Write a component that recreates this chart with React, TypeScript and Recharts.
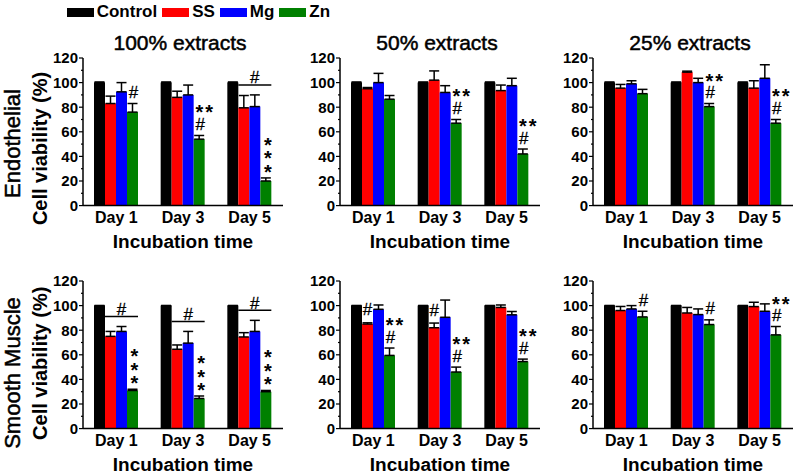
import React from 'react';
import { BarChart, Bar, XAxis, YAxis, ErrorBar } from 'recharts';

// categories and series
const days = ['Day 1', 'Day 3', 'Day 5'];
const seriesNames = ['Control', 'SS', 'Mg', 'Zn'];
const seriesColors = ['#000000', '#ff0000', '#0000ff', '#008000'];
const yTicks = [0, 10, 20, 30, 40, 50, 60, 70, 80, 90, 100, 110, 120];
const panelTitles = ['100% extracts', '50% extracts', '25% extracts'];
const rowLabels = ['Endothelial', 'Smooth Muscle'];

// rows = days, columns = Control, SS, Mg, Zn
const endo100Mean = [[100, 83, 92.5, 76], [100, 88, 90, 54], [100, 79.5, 80.5, 20]];
const endo100Err = [[0.5, 6, 7.5, 7], [0.5, 5, 8, 3], [0.5, 10, 9.5, 2.5]];
const endo100Marks = [{ zn: ['#'] }, { zn: ['**', '#'] }, { bar: '#', zn: ['*', '*', '*'] }];

const endo50Mean = [[100, 95, 100, 86.5], [100, 102, 92, 67], [100, 93.5, 97.5, 42]];
const endo50Err = [[0.5, 1, 7.5, 3], [0.5, 7.5, 5.5, 3], [0.5, 4.5, 6, 4]];
const endo50Marks = [{}, { zn: ['**', '#'] }, { zn: ['**', '#'] }];

const endo25Mean = [[100, 95.5, 99, 91], [100, 108.5, 100, 80.5], [100, 95.5, 103.5, 67]];
const endo25Err = [[0.5, 3, 2.5, 3.5], [0.5, 0.8, 3.5, 2.5], [0.5, 6, 11, 3]];
const endo25Marks = [{}, { zn: ['**', '#'] }, { zn: ['**', '#'] }];

const smooth100Mean = [[100, 75, 79, 31], [100, 64.5, 69.5, 24.5], [100, 74.5, 79, 30]];
const smooth100Err = [[0, 4, 4, 1], [0, 3.5, 9.5, 2], [0, 3.5, 9, 1]];
const smooth100Marks = [
  { bar: '#', zn: ['*', '*', '*'] },
  { bar: '#', zn: ['*', '*', '*'] },
  { bar: '#', zn: ['*', '*', '*'] },
];

const smooth50Mean = [[100, 85, 97, 59.5], [100, 82, 90.5, 46], [100, 98.5, 92.5, 54.5]];
const smooth50Err = [[0, 1, 3.5, 6], [0, 3.8, 14, 4], [0, 2, 2.7, 2]];
const smooth50Marks = [{ ss: '#', zn: ['**', '#'] }, { ss: '#', zn: ['**', '#'] }, { zn: ['**', '#'] }];

const smooth25Mean = [[100, 96, 97.3, 90.8], [100, 94, 92.7, 84.6], [100, 99.2, 95.4, 76.2]];
const smooth25Err = [[0, 3.3, 2.7, 4.6], [0, 4.5, 4.6, 3.8], [0, 3.5, 6, 6.8]];
const smooth25Marks = [{ zn: ['#'] }, { zn: ['#'] }, { zn: ['**', '#'] }];

type Mark = { ss?: string; zn?: string[]; bar?: string };

const buildData = (mean: number[][], err: number[][]) =>
  days.map((day, i) => {
    const row: any = { day };
    seriesNames.forEach((s, j) => {
      row[s] = mean[i][j];
      row[s + 'Err'] = [0, err[i][j]];
    });
    return row;
  });

const markText = (t: string, cx: number, cy: number, key: string) => {
  if (t === '#') {
    return (
      <text key={key} x={cx + 1} y={cy} textAnchor="middle" dominantBaseline="central" fontSize={17}
        stroke="#000" strokeWidth={0.3} fill="#000">
        #
      </text>
    );
  }
  const off = t === '**' ? 6 : 2;
  return (
    <text key={key} x={cx + off} y={cy + 5} textAnchor="middle" dominantBaseline="central" fontSize={20}
      fontWeight="bold" letterSpacing={t === '**' ? 2 : 0} fill="#000">
      {t}
    </text>
  );
};

// bar with significance marks placed from the bar's own geometry
const markedShape = (key: string, marks: Mark[]) => (props: any) => {
  const { x, y, width, height, fill, payload } = props;
  const i = days.indexOf(payload.day);
  const m = marks[i] || {};
  const v = payload[key];
  const bottom = y + height;
  const scale = height / v;
  const px = (val: number) => bottom - val * scale;
  const errTop = px(v + payload[key + 'Err'][1]);
  const els: any[] = [];
  const cx = x + width / 2;

  if (key === 'Zn' && m.zn) {
    let cy = errTop - 11;
    for (let k = m.zn.length - 1; k >= 0; k--) {
      const t = m.zn[k];
      els.push(markText(t, cx, cy, 'z' + k));
      cy -= t === '*' ? 13.5 : 17;
    }
  }
  if (key === 'SS' && m.ss) {
    els.push(markText(m.ss, cx - 1, errTop - 13, 's'));
  }
  if (key === 'Zn' && m.bar) {
    const ssTop = px(payload.SS + payload.SSErr[1]);
    const mgTop = px(payload.Mg + payload.MgErr[1]);
    const ly = Math.min(ssTop, mgTop) - 10;
    const x1 = x - 2 * width;
    const x2 = x + width;
    els.push(<line key="bl" x1={x1} x2={x2} y1={ly} y2={ly} stroke="#000" strokeWidth={1.5} />);
    els.push(markText(m.bar, (x1 + x2) / 2 - 1, ly - 7, 'bt'));
  }
  return (
    <g>
      <rect x={x} y={y} width={width} height={height} fill={fill} />
      {els}
    </g>
  );
};

const YTick = (props: any) => {
  const { x, y, payload } = props;
  const major = payload.value % 20 === 0;
  return (
    <g>
      <line x1={x - (major ? 4 : 2)} x2={x} y1={y} y2={y} stroke="#000" strokeWidth={1.2} />
      {major && (
        <text x={x - 5} y={y} textAnchor="end" dominantBaseline="central" fontSize={15} fontWeight="bold" fill="#000">
          {payload.value}
        </text>
      )}
    </g>
  );
};

const colLefts = [0, 257, 510];
const rowTops = [7.5, 230.7];
const yTitleCenter = [148, 363];

interface PanelProps {
  row: number;
  col: number;
  mean: number[][];
  err: number[][];
  marks: Mark[];
}

const Panel: React.FC<PanelProps> = ({ row, col, mean, err, marks }) => {
  const data = buildData(mean, err);
  return (
    <div style={{ position: 'absolute', left: colLefts[col], top: rowTops[row] }}>
      <BarChart width={290} height={242.6} data={data} margin={{ top: 50, right: 7, left: 43, bottom: 0 }}
        barGap={0} barCategoryGap={11}>
        <XAxis dataKey="day" height={45} tickLine={false} tickSize={0} tickMargin={6}
          axisLine={{ stroke: '#000', strokeWidth: 1.5 }}
          tick={{ fill: '#000', fontSize: 16, fontWeight: 'bold' }}
          label={{
            value: 'Incubation time',
            content: (p: any) => {
              const vb = p.viewBox;
              return (
                <text x={vb.x + vb.width / 2} y={vb.y + 42} textAnchor="middle" fontSize={19} fontWeight="bold" fill="#000">
                  Incubation time
                </text>
              );
            },
          }}
        />
        <YAxis width={40} domain={[0, 120]} ticks={yTicks} interval={0} tickLine={false} tickSize={0} tickMargin={0}
          axisLine={{ stroke: '#000', strokeWidth: 1.5 }} tick={<YTick />}
          label={col === 0 ? {
            value: 'Cell viability (%)',
            content: () => {
              const cx = 40;
              const cy = yTitleCenter[row] - rowTops[row];
              return (
                <text x={cx} y={cy} transform={`rotate(-90, ${cx}, ${cy})`} textAnchor="middle" dominantBaseline="central"
                  fontSize={20} fontWeight="bold" fill="#000">
                  Cell viability (%)
                </text>
              );
            },
          } : undefined}
        />
        {seriesNames.map((s, j) => (
          <Bar key={s} dataKey={s} fill={seriesColors[j]} isAnimationActive={false}
            shape={s === 'SS' || s === 'Zn' ? markedShape(s, marks) : undefined}>
            <ErrorBar dataKey={s + 'Err'} width={5} strokeWidth={1.5} stroke="#000" direction="y" isAnimationActive={false} />
          </Bar>
        ))}
      </BarChart>
    </div>
  );
};

const App: React.FC = () => {
  return (
    <div style={{ position: 'absolute', left: 0, top: 0, width: 800, height: 475, overflow: 'hidden', background: '#fff',
      fontFamily: '"Liberation Sans", Arial, sans-serif', color: '#000' }}>
      <div style={{ position: 'absolute', left: 66.7, top: 2, height: 20, display: 'flex', alignItems: 'center',
        fontSize: 17, fontWeight: 'bold', whiteSpace: 'nowrap' }}>
        {seriesNames.map((s, i) => (
          <React.Fragment key={s}>
            <span style={{ display: 'inline-block', width: 27, height: 9, background: seriesColors[i], marginRight: 3 }} />
            <span style={{ marginRight: 5 }}>{s}</span>
          </React.Fragment>
        ))}
      </div>
      {panelTitles.map((t, i) => (
        <div key={t} style={{ position: 'absolute', left: colLefts[i] + 80, top: 30.5, width: 200, textAlign: 'center',
          fontSize: 21, lineHeight: '24px', WebkitTextStroke: '0.5px #000' }}>
          {t}
        </div>
      ))}
      <svg width={30} height={475} style={{ position: 'absolute', left: 0, top: 0 }}>
        <text x={12} y={143.5} transform="rotate(-90, 12, 143.5)" textAnchor="middle" dominantBaseline="central"
          fontSize={22} stroke="#000" strokeWidth={0.5} fill="#000">
          {rowLabels[0]}
        </text>
        <text x={12} y={373} transform="rotate(-90, 12, 373)" textAnchor="middle" dominantBaseline="central"
          fontSize={22} stroke="#000" strokeWidth={0.5} fill="#000">
          {rowLabels[1]}
        </text>
      </svg>
      <Panel row={0} col={0} mean={endo100Mean} err={endo100Err} marks={endo100Marks} />
      <Panel row={0} col={1} mean={endo50Mean} err={endo50Err} marks={endo50Marks} />
      <Panel row={0} col={2} mean={endo25Mean} err={endo25Err} marks={endo25Marks} />
      <Panel row={1} col={0} mean={smooth100Mean} err={smooth100Err} marks={smooth100Marks} />
      <Panel row={1} col={1} mean={smooth50Mean} err={smooth50Err} marks={smooth50Marks} />
      <Panel row={1} col={2} mean={smooth25Mean} err={smooth25Err} marks={smooth25Marks} />
    </div>
  );
};

export default App;
